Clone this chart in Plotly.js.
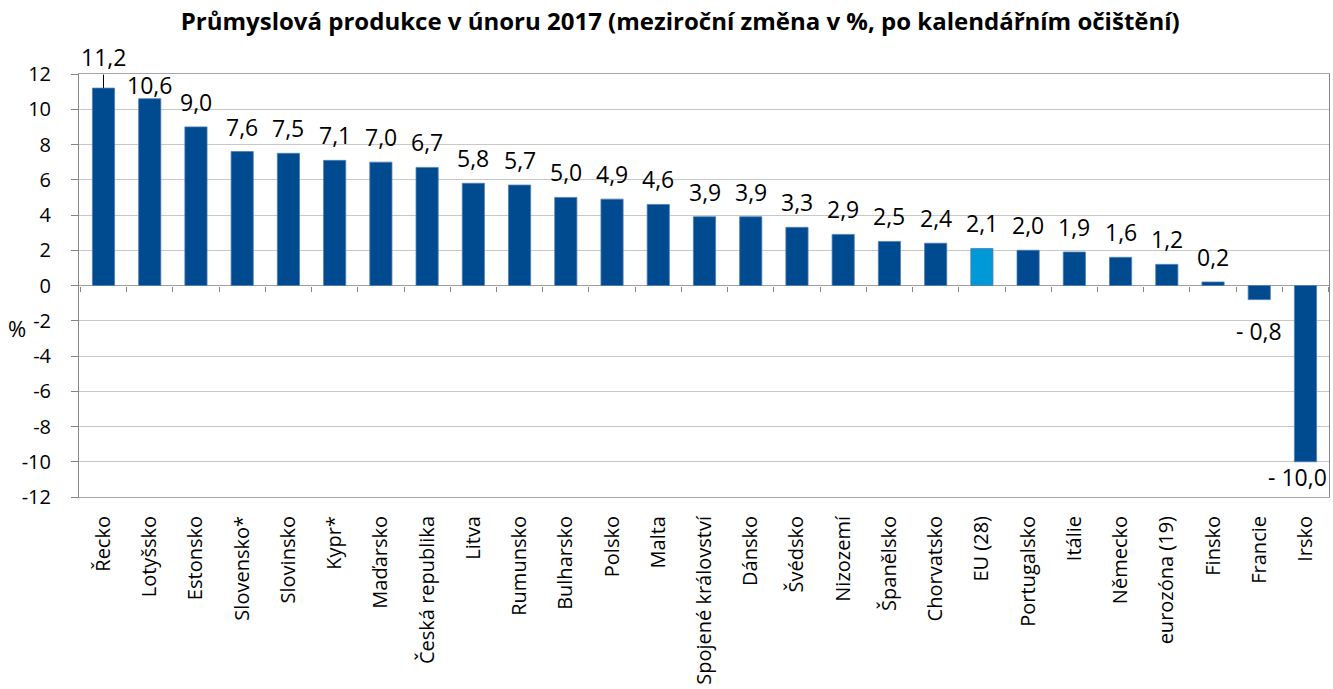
<!DOCTYPE html>
<html>
<head>
<meta charset="utf-8">
<script src="https://cdn.plot.ly/plotly-3.0.1.min.js"></script>
<style>html,body{margin:0;padding:0;background:#fff;}#chart{width:1333px;height:689px;}</style>
</head>
<body>
<div id="chart"></div>
<script>
var categories = ["Řecko","Lotyšsko","Estonsko","Slovensko*","Slovinsko","Kypr*","Maďarsko","Česká republika","Litva","Rumunsko","Bulharsko","Polsko","Malta","Spojené království","Dánsko","Švédsko","Nizozemí","Španělsko","Chorvatsko","EU (28)","Portugalsko","Itálie","Německo","eurozóna (19)","Finsko","Francie","Irsko"];
var values = [11.2,10.6,9.0,7.6,7.5,7.1,7.0,6.7,5.8,5.7,5.0,4.9,4.6,3.9,3.9,3.3,2.9,2.5,2.4,2.1,2.0,1.9,1.6,1.2,0.2,-0.8,-10.0];
var highlight = ["EU (28)"];
var yTicks = [-12,-10,-8,-6,-4,-2,0,2,4,6,8,10,12];

var DARK = "#004A8F", LIGHT = "#0099D8";
var FONT = "Open Sans";

function fmt(v){
  var s = Math.abs(v).toFixed(1).replace(".", ",");
  return v < 0 ? "- " + s : s;
}

var colors = categories.map(function(c){ return highlight.indexOf(c) >= 0 ? LIGHT : DARK; });

var bars = {
  type: "bar", x: categories, y: values,
  marker: {color: colors, line: {color: "#4f7fb8", width: 0.8}},
  hoverinfo: "x+y", showlegend: false
};
var ghost = {
  type: "bar", x: categories, y: values.map(function(){return 0;}),
  xaxis: "x2", yaxis: "y", marker: {color: "rgba(0,0,0,0)"}, hoverinfo: "skip", showlegend: false
};

// label placement style (pixel shifts), keyed by category
var specialShift = {"Lotyšsko": 14, "Francie": -31, "Irsko": -15};

var annotations = categories.map(function(c, i){
  var v = values[i];
  var a = {
    x: c, y: v, xref: "x", yref: "y", text: fmt(v), showarrow: false,
    font: {family: FONT, size: 23, color: "#000"},
    xanchor: "center", yanchor: "middle",
    yshift: v >= 0 ? 25 : -31
  };
  if (specialShift[c] !== undefined) a.yshift = specialShift[c];
  if (c === "Řecko") {
    delete a.yshift;
    a.showarrow = true; a.arrowhead = 0; a.arrowwidth = 1; a.arrowcolor = "#000";
    a.ax = 0; a.ay = -31; a.standoff = 0;
  }
  if (c === "Irsko") { a.xshift = -8; }
  return a;
});

annotations.push({
  xref: "paper", yref: "y", x: -0.0495, y: -2.4, text: "%", showarrow: false,
  font: {family: FONT, size: 22, color: "#000"}, xanchor: "center", yanchor: "middle"
});

var layout = {
  width: 1333, height: 689,
  margin: {l: 79, r: 4, t: 74, b: 192},
  paper_bgcolor: "#fff", plot_bgcolor: "#fff",
  bargap: 0.52,
  title: {
    text: "<b>Průmyslová produkce v únoru 2017 (meziroční změna v %, po kalendářním očištění)</b>",
    font: {family: FONT, size: 24, color: "#000"},
    x: 0.481, xref: "paper", xanchor: "center", y: 0.968, yref: "container", yanchor: "middle"
  },
  font: {family: FONT, color: "#000"},
  xaxis: {
    type: "category", tickangle: -90, ticks: "", ticklabelstandoff: 10,
    tickfont: {family: FONT, size: 20, color: "#000"},
    showline: true, linecolor: "#A6A6A6", linewidth: 1, mirror: true,
    showgrid: false, zeroline: false, fixedrange: true
  },
  xaxis2: {
    type: "category", overlaying: "x", anchor: "free", position: 0.5, side: "bottom",
    matches: "x", showticklabels: false, ticks: "outside", tickson: "boundaries", ticklen: 5,
    tickcolor: "#868686", showline: false, showgrid: false, zeroline: false
  },
  yaxis: {
    range: [-12, 12], tickvals: yTicks, ticktext: yTicks.map(String),
    ticks: "outside", ticklen: 7, tickcolor: "#868686", ticklabelstandoff: 16,
    tickfont: {family: FONT, size: 20, color: "#000"},
    showgrid: true, gridcolor: "#C8C8C8", gridwidth: 1,
    zeroline: true, zerolinecolor: "#A0A0A0", zerolinewidth: 1,
    showline: true, linecolor: "#868686", linewidth: 1, mirror: true, fixedrange: true
  },
  annotations: annotations
};

Plotly.newPlot("chart", [bars, ghost], layout, {displayModeBar: false, staticPlot: true});
</script>
</body>
</html>
